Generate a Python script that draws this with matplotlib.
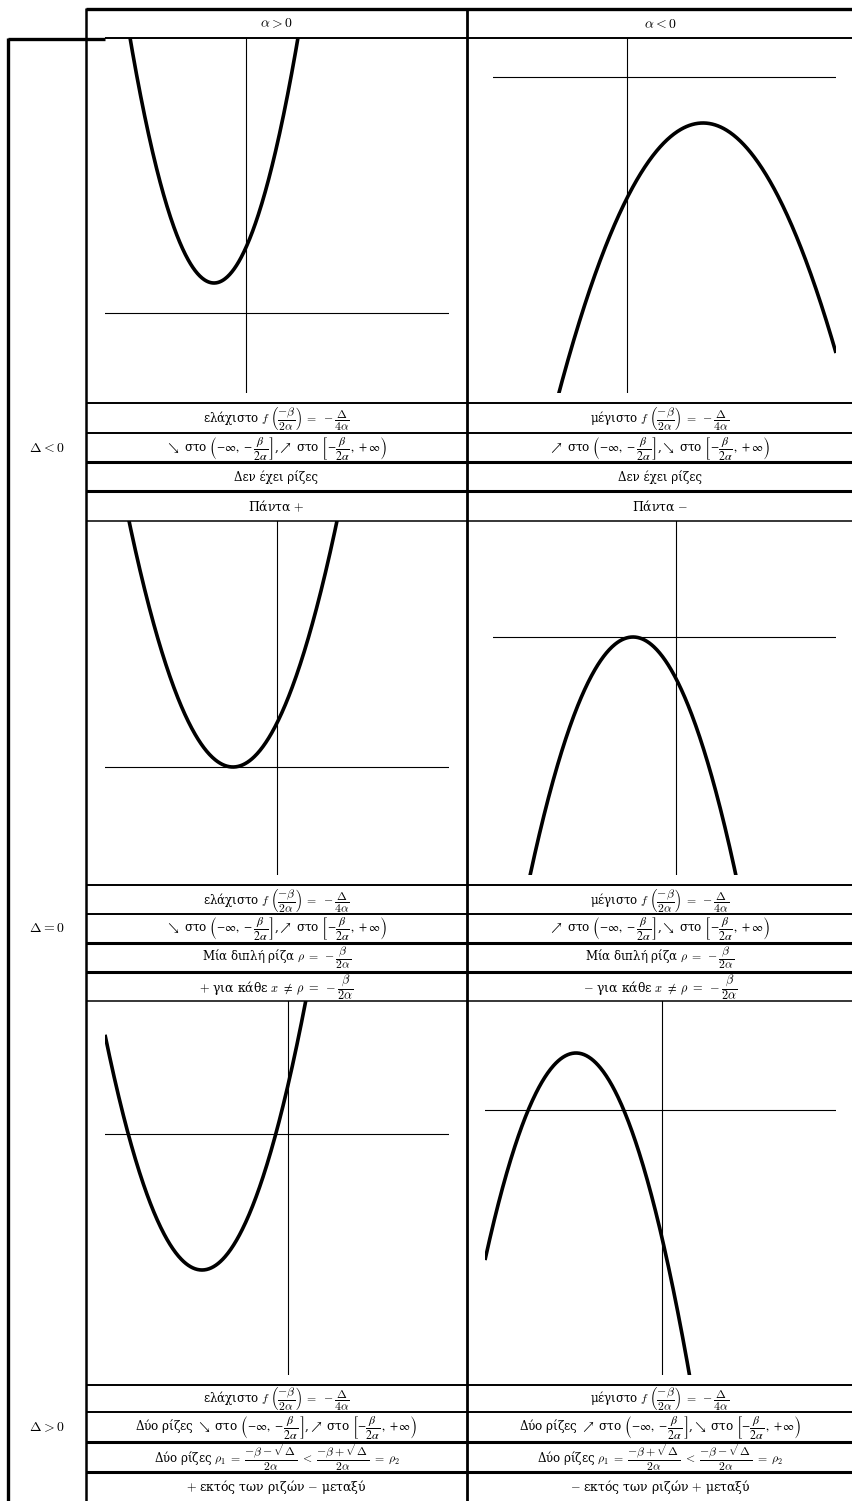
import numpy as np
import matplotlib
matplotlib.use("Agg")
import matplotlib.pyplot as plt

plt.rcParams['font.family'] = ['DejaVu Serif']
plt.rcParams['mathtext.fontset'] = 'cm'

# ---------------- data ----------------
col_headers = [r"$\alpha > 0$", r"$\alpha < 0$"]
row_headers = [r"$\Delta < 0$", r"$\Delta = 0$", r"$\Delta > 0$"]

# parabolas y = a (x - h)^2 + k, in axis units (order: row-major, col α>0 then α<0)
vertex_x = [-0.8, 1.9, -1.1, -1.075, -2.15, -2.15]
vertex_y = [0.75, -1.15, 0.0, 0.0, -3.4, 1.425]
curvature = [1.39, -0.52, 0.91, -0.90, 1.0, -1.0]

MIN = r"ελάχιστο $f\;\left(\dfrac{-\beta}{2\alpha}\right)\;=\;-\dfrac{\Delta}{4\alpha}$"
MAX = r"μέγιστο $f\;\left(\dfrac{-\beta}{2\alpha}\right)\;=\;-\dfrac{\Delta}{4\alpha}$"
DEC_INC = (r"$\searrow$ στο $\left(-\infty,\,-\dfrac{\beta}{2\alpha}\,\right]$,"
           r"$\nearrow$ στο $\left[-\dfrac{\beta}{2\alpha}\,,\,+\infty\right)$")
INC_DEC = (r"$\nearrow$ στο $\left(-\infty,\,-\dfrac{\beta}{2\alpha}\,\right]$,"
           r"$\searrow$ στο $\left[-\dfrac{\beta}{2\alpha}\,,\,+\infty\right)$")

cell_texts = [
    # Δ < 0
    [[MIN, DEC_INC, "Δεν έχει ρίζες", r"Πάντα $+$"],
     [MAX, INC_DEC, "Δεν έχει ρίζες", r"Πάντα $-$"]],
    # Δ = 0
    [[MIN, DEC_INC, r"Μία διπλή ρίζα $\rho\;=\;-\dfrac{\beta}{2\alpha}$",
      r"$+$ για κάθε $x\;\neq\;\rho\;=\;-\dfrac{\beta}{2\alpha}$"],
     [MAX, INC_DEC, r"Μία διπλή ρίζα $\rho\;=\;-\dfrac{\beta}{2\alpha}$",
      r"$-$ για κάθε $x\;\neq\;\rho\;=\;-\dfrac{\beta}{2\alpha}$"]],
    # Δ > 0
    [[MIN, "Δύο ρίζες " + DEC_INC,
      r"Δύο ρίζες $\rho_1\;=\;\dfrac{-\beta-\sqrt{\Delta}}{2\alpha}\;<\;\dfrac{-\beta+\sqrt{\Delta}}{2\alpha}\;=\;\rho_2$",
      r"$+$ εκτός των ριζών $-$ μεταξύ"],
     [MAX, "Δύο ρίζες " + INC_DEC,
      r"Δύο ρίζες $\rho_1\;=\;\dfrac{-\beta+\sqrt{\Delta}}{2\alpha}\;<\;\dfrac{-\beta-\sqrt{\Delta}}{2\alpha}\;=\;\rho_2$",
      r"$-$ εκτός των ριζών $+$ μεταξύ"]],
]

# ---------------- layout (pixels) ----------------
W, H = 853, 1501
fig = plt.figure(figsize=(W / 100, H / 100), dpi=100)
ov = fig.add_axes([0, 0, 1, 1])
ov.set_xlim(0, W)
ov.set_ylim(H, 0)
ov.axis('off')

XL, XM, XR = 86, 467, 853
col_centers = [(XL + XM) / 2, (XM + XR) / 2]

# text-row boundaries per block
blocks = [
    (38, [403, 433, 462, 491, 521]),
    (521, [885, 914, 943, 972, 1001]),
    (1001, [1385, 1412, 1442, 1472, 1501]),
]
row_lw = [1.4, 1.4, 2.2, 2.2]
row_math_font = ['cm', 'stix', 'cm', 'cm']
row_size = [8.5, 8.6, 8.5, 8.9]

# inner plot boxes (x0, x1, y0, y1) and origin (ox, oy), unit px
boxes = [
    ((105, 449, 38, 393), (246, 313)),
    ((493, 836, 38, 393), (627, 77)),
    ((105, 449, 521, 875), (277, 767)),
    ((493, 836, 521, 875), (676, 637)),
    ((105, 449, 1001, 1375), (288, 1134)),
    ((485, 836, 1001, 1375), (662, 1110)),
]
UNIT = 40.0

# ---------------- table lines ----------------
k = dict(color='black', solid_capstyle='butt')
ov.plot([XL, W], [9, 9], lw=2.4, **k)
ov.plot([8, 105], [39, 39], lw=2.4, **k)
ov.plot([105, W], [38, 38], lw=1.4, **k)
ov.plot([8, 8], [38, H], lw=2.4, **k)
ov.plot([XL, XL], [8, H], lw=1.8, **k)
ov.plot([XM, XM], [8, H], lw=2.0, **k)

for (top, lines) in blocks:
    for i, y in enumerate(lines[:-1]):
        ov.plot([XL, W], [y, y], lw=row_lw[i], **k)
    if lines[-1] < H:
        ov.plot([XL, W], [lines[-1], lines[-1]], lw=1.1, **k)

# headers
for c, s in enumerate(col_headers):
    ov.text(col_centers[c], 23.5, s, ha='center', va='center', fontsize=10)

# row headers and cell texts
for b, (top, lines) in enumerate(blocks):
    ov.text(47, (lines[1] + lines[2]) / 2, row_headers[b], ha='center',
            va='center', fontsize=10)
    for c in range(2):
        for r in range(4):
            yc = (lines[r] + lines[r + 1]) / 2
            ov.text(col_centers[c], yc + 0.5, cell_texts[b][c][r], ha='center',
                    va='center', fontsize=row_size[r],
                    math_fontfamily=row_math_font[r])

# ---------------- parabola panels ----------------
for i, ((x0, x1, y0, y1), (ox, oy)) in enumerate(boxes):
    ax = fig.add_axes([x0 / W, 1 - y1 / H, (x1 - x0) / W, (y1 - y0) / H])
    ax.axis('off')
    xlo, xhi = (x0 - ox) / UNIT, (x1 - ox) / UNIT
    ylo, yhi = (oy - y1) / UNIT, (oy - y0) / UNIT
    ax.set_xlim(xlo, xhi)
    ax.set_ylim(ylo, yhi)
    ax.axhline(0, color='black', lw=0.8)
    ax.axvline(0, color='black', lw=0.8)
    xs = np.linspace(xlo, xhi, 600)
    ys = curvature[i] * (xs - vertex_x[i]) ** 2 + vertex_y[i]
    ax.plot(xs, ys, color='black', lw=2.6, solid_capstyle='butt')

fig.savefig('out.png', dpi=100)
